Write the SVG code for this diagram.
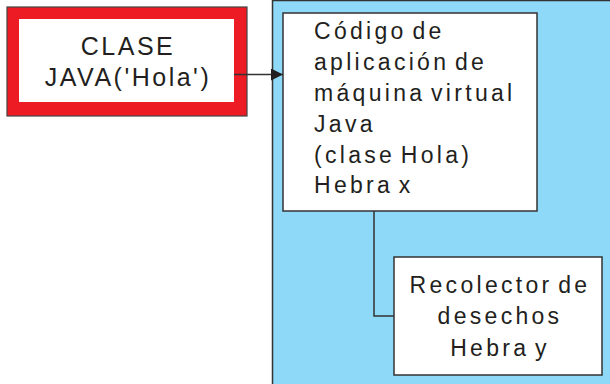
<svg xmlns="http://www.w3.org/2000/svg" width="610" height="384" viewBox="0 0 610 384">
<style>
.t{font-family:"Liberation Sans",Arial,sans-serif;fill:#231f20;font-size:23px;letter-spacing:3.3px;word-spacing:-4px}
.box{fill:#fff;stroke:#333;stroke-width:1.5}
.ln{fill:none;stroke:#333;stroke-width:1.5}
</style>
<defs>
<marker id="ah" viewBox="0 0 10 10" refX="10" refY="5" markerWidth="12" markerHeight="12" markerUnits="userSpaceOnUse" orient="auto">
<path d="M0,0 L10,5 L0,10 z" fill="#231f20"/>
</marker>
</defs>
<g id="panel">
<rect x="272.5" y="0.5" width="340" height="390" fill="#8ed8f8" stroke="#333" stroke-width="1.5"/>
</g>
<g id="clase">
<rect x="7" y="7" width="240" height="109" fill="#ed1c24" stroke="#444" stroke-width="1.2"/>
<rect x="19" y="19" width="215" height="83" fill="#fff"/>
<text class="t" style="font-size:25px;letter-spacing:2.5px" x="128" y="55" text-anchor="middle">CLASE</text>
<text class="t" style="font-size:25px;letter-spacing:2.5px" x="128" y="86" text-anchor="middle">JAVA('Hola')</text>
</g>
<g id="connectors">
<line class="ln" x1="234" y1="74.5" x2="283" y2="74.5" marker-end="url(#ah)"/>
<polyline class="ln" points="374,211 374,316 394,316"/>
</g>
<g id="codigo">
<rect class="box" x="283" y="13" width="254" height="198"/>
<text class="t" x="314" y="39">Código de</text>
<text class="t" x="314" y="70">aplicación de</text>
<text class="t" x="314" y="101">máquina virtual</text>
<text class="t" x="314" y="132">Java</text>
<text class="t" x="314" y="163">(clase Hola)</text>
<text class="t" x="314" y="193">Hebra x</text>
</g>
<g id="recolector">
<rect class="box" x="394" y="257" width="208" height="118"/>
<text class="t" x="500" y="293" text-anchor="middle">Recolector de</text>
<text class="t" x="500" y="324" text-anchor="middle">desechos</text>
<text class="t" x="500" y="356" text-anchor="middle">Hebra y</text>
</g>
</svg>
